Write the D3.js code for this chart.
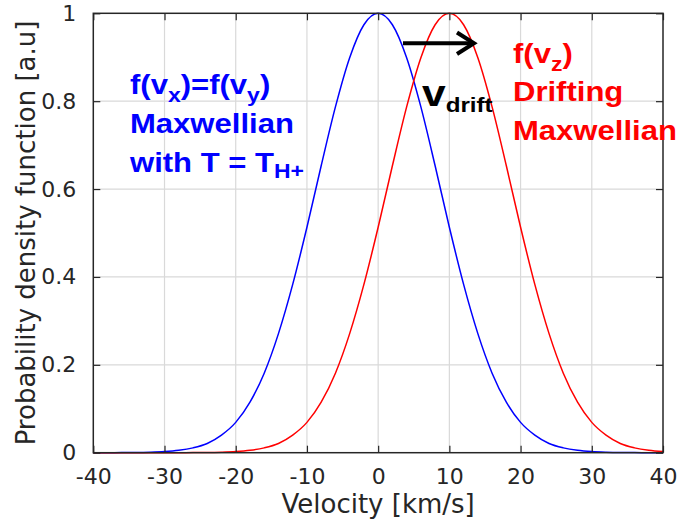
<!DOCTYPE html>
<html>
<head>
<meta charset="utf-8">
<script src="https://cdn.jsdelivr.net/npm/d3@7"></script>
<style>
  body { margin: 0; background: #fff; }
  svg { display: block; }
</style>
</head>
<body>
<svg id="chart" width="683" height="524"></svg>
<script>
// velocity samples (km/s)
const velocity = [-40,-38,-36,-34,-32,-30,-28,-26,-24,-22,-20,-18,-16,-14,-12,-10,-8,-6,-4,-2,
                  0,2,4,6,8,10,12,14,16,18,20,22,24,26,28,30,32,34,36,38,40];
// f(vx)=f(vy), centred at 0
const fxy = [0,0.0001,0.0002,0.0004,0.0011,0.0025,0.0054,0.011,0.021,0.040,0.069,0.115,0.181,0.271,0.383,0.513,0.653,0.787,0.899,0.974,
             1,0.974,0.899,0.787,0.653,0.513,0.383,0.271,0.181,0.115,0.069,0.040,0.021,0.011,0.0054,0.0025,0.0011,0.0004,0.0002,0.0001,0];
// f(vz), drifting, centred at 10
const fz = [0,0,0,0,0,0,0.0001,0.0002,0.0004,0.0011,0.0025,0.0054,0.011,0.021,0.040,0.069,0.115,0.181,0.271,0.383,
            0.513,0.653,0.787,0.899,0.974,1,0.974,0.899,0.787,0.653,0.513,0.383,0.271,0.181,0.115,0.069,0.040,0.021,0.011,0.0054,0.0025];
const xTicks = [-40,-30,-20,-10,0,10,20,30,40];
const yTicks = [0,0.2,0.4,0.6,0.8,1];

const svg = d3.select("#chart"),
      margin = {top: 13.3, right: 20, bottom: 71.3, left: 93.3},
      width = +svg.attr("width") - margin.left - margin.right,
      height = +svg.attr("height") - margin.top - margin.bottom;

const g = svg.append("g").attr("transform", `translate(${margin.left},${margin.top})`);

const x = d3.scaleLinear().domain([-40, 40]).range([0, width]);
const y = d3.scaleLinear().domain([0, 1]).range([height, 0]);

const axisCol = "#262626";
const tickFont = "DejaVu Sans";

// grid
g.append("g").selectAll("line.gx").data(xTicks.slice(1, -1)).enter().append("line")
  .attr("x1", d => x(d)).attr("x2", d => x(d)).attr("y1", 0).attr("y2", height)
  .attr("stroke", "#d9d9d9").attr("stroke-width", 1.2);
g.append("g").selectAll("line.gy").data(yTicks.slice(1, -1)).enter().append("line")
  .attr("y1", d => y(d)).attr("y2", d => y(d)).attr("x1", 0).attr("x2", width)
  .attr("stroke", "#d9d9d9").attr("stroke-width", 1.2);

// curves
const line = (vals) => d3.line()
  .x((d, i) => x(velocity[i]))
  .y(d => y(d))
  .curve(d3.curveMonotoneX)(vals);

g.append("path").attr("d", line(fxy)).attr("fill", "none").attr("stroke", "#0000ff").attr("stroke-width", 1.5);
g.append("path").attr("d", line(fz)).attr("fill", "none").attr("stroke", "#ff0000").attr("stroke-width", 1.5);

// axes (ticks pointing inward)
function styleAxis(sel) {
  sel.select(".domain").remove();
  sel.selectAll("line").attr("stroke", axisCol).attr("stroke-width", 1.2);
  sel.selectAll("text").attr("fill", axisCol).style("font-family", tickFont).style("font-size", "22px");
}
g.append("g").attr("transform", `translate(0,${height})`)
  .call(d3.axisBottom(x).tickValues(xTicks).tickSize(-7).tickPadding(16).tickFormat(d => String(d)))
  .call(styleAxis);
g.append("g")
  .call(d3.axisTop(x).tickValues(xTicks).tickSize(-7).tickFormat(""))
  .call(styleAxis);
g.append("g")
  .call(d3.axisLeft(y).tickValues(yTicks).tickSize(-7).tickPadding(17).tickFormat(d => String(d)))
  .call(styleAxis);
g.append("g").attr("transform", `translate(${width},0)`)
  .call(d3.axisRight(y).tickValues(yTicks).tickSize(-7).tickFormat(""))
  .call(styleAxis);

// box
g.append("rect").attr("width", width).attr("height", height)
  .attr("fill", "none").attr("stroke", axisCol).attr("stroke-width", 1.5);

// axis labels
svg.append("text")
  .attr("x", margin.left + width / 2).attr("y", 513)
  .attr("text-anchor", "middle").attr("fill", axisCol)
  .style("font-family", tickFont).style("font-size", "26px")
  .text("Velocity [km/s]");
svg.append("text")
  .attr("transform", `translate(35,${margin.top + height / 2}) rotate(-90)`)
  .attr("text-anchor", "middle").attr("fill", axisCol)
  .style("font-family", tickFont).style("font-size", "26px")
  .text("Probability density function [a.u]");

// annotations: bold, slightly wide text
function label(px, py, color, parts, size) {
  const t = svg.append("text")
    .attr("transform", `translate(${px},${py}) scale(1.15,1)`)
    .attr("fill", color)
    .style("font-family", "Liberation Sans, Arial, sans-serif")
    .style("font-weight", "bold")
    .style("font-size", size + "px");
  let shift = 0;
  parts.forEach(p => {
    const s = t.append("tspan").text(p.t);
    const want = p.sub || 0;
    if (want !== shift) { s.attr("dy", want - shift); shift = want; }
    if (p.size) s.style("font-size", p.size + "px");
  });
}

label(130, 94, "#0000ff", [{t: "f(v"}, {t: "x", sub: 8, size: 20}, {t: ")=f(v"}, {t: "y", sub: 8, size: 20}, {t: ")"}], 27);
label(130, 133, "#0000ff", [{t: "Maxwellian"}], 27);
label(130, 172, "#0000ff", [{t: "with T = T"}, {t: "H+", sub: 6, size: 20}], 27);

label(513, 63, "#ff0000", [{t: "f(v"}, {t: "z", sub: 8, size: 20}, {t: ")"}], 27);
label(513, 101, "#ff0000", [{t: "Drifting"}], 27);
label(513, 140, "#ff0000", [{t: "Maxwellian"}], 27);

label(422, 106, "#000", [{t: "v", size: 37}, {t: "drift", sub: 6, size: 21}], 37);

// drift arrow
svg.append("line").attr("x1", 403).attr("y1", 43.3).attr("x2", 473).attr("y2", 43.3)
  .attr("stroke", "#000").attr("stroke-width", 4);
svg.append("path").attr("d", "M457,32.5 L474,43.3 L457,54")
  .attr("fill", "none").attr("stroke", "#000").attr("stroke-width", 4)
  .attr("stroke-linejoin", "miter");
</script>
</body>
</html>
